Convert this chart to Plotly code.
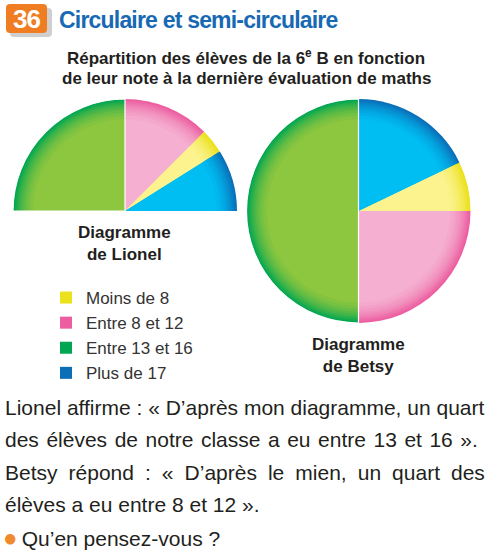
import plotly.graph_objects as go

# ---------------- données ----------------
categories = ["Moins de 8", "Entre 8 et 12", "Entre 13 et 16", "Plus de 17"]
effectifs = [2, 7, 14, 5]
couleurs_bord = ["#ebe11c", "#ec5ea0", "#00a651", "#0b6fb8"]
couleurs_centre = ["#fcf38e", "#f5afd0", "#8dc63f", "#00bdf2"]

numero = "36"
titre = "Circulaire et semi-circulaire"
sous_titre = ["Répartition des élèves de la 6<sup>e</sup> B en fonction",
              "de leur note à la dernière évaluation de maths"]
nom_lionel = "Diagramme<br>de Lionel"
nom_betsy = "Diagramme<br>de Betsy"
paragraphe = [
    ("Lionel affirme : « D’après mon diagramme, un quart", 0),
    ("des élèves de notre classe a eu entre 13 et 16 ».", 1.7),
    ("Betsy répond : « D’après le mien, un quart des", 5.2),
    ("élèves a eu entre 8 et 12 ».", 0),
]
question = "Qu’en pensez-vous ?"

# ---------------- mise en page ----------------
W, H = 485, 550
R = 112
LIONEL_C = (125, 211)
BETSY_C = (358.5, 211)

FONT = "Liberation Sans, Arial, sans-serif"


def px(x):
    return x / W


def py(y):
    return 1 - y / H


def mix(c1, c2, t):
    a = [int(c1[i:i + 2], 16) for i in (1, 3, 5)]
    b = [int(c2[i:i + 2], 16) for i in (1, 3, 5)]
    return "#" + "".join(f"{round(a[k] + (b[k] - a[k]) * t):02x}" for k in range(3))


def domain(c, s):
    cx, cy = c
    r = R * s
    return dict(x=[px(cx - r), px(cx + r)], y=[py(cy + r), py(cy - r)])


echelles = [1.0, 0.985, 0.97, 0.955, 0.94, 0.92, 0.90, 0.875, 0.85, 0.82]
teintes = [0.0, 0.12, 0.24, 0.36, 0.48, 0.60, 0.72, 0.83, 0.92, 1.0]

total = sum(effectifs)
fig = go.Figure()

# Diagramme de Betsy (cercle) : commence par "Moins de 8" après "Plus de 17"
rot_betsy = effectifs[3] / total * 360
for k, (s, t) in enumerate(zip(echelles, teintes)):
    fig.add_trace(go.Pie(
        labels=categories, values=effectifs, sort=False, direction="clockwise",
        rotation=rot_betsy, domain=domain(BETSY_C, s), textinfo="none",
        marker=dict(colors=[mix(couleurs_bord[i], couleurs_centre[i], t) for i in range(4)],
                    line=dict(width=0)),
        showlegend=(k == 0), hoverinfo="label+value",
    ))
fig.add_trace(go.Pie(
    labels=categories, values=effectifs, sort=False, direction="clockwise",
    rotation=rot_betsy, domain=domain(BETSY_C, 1.0), textinfo="none",
    marker=dict(colors=["rgba(0,0,0,0)"] * 4,
                line=dict(color=["rgba(0,0,0,0)", "rgba(0,0,0,0)", "white", "rgba(0,0,0,0)"], width=1.2)),
    showlegend=False, hoverinfo="skip",
))

# Diagramme de Lionel (semi-circulaire) : moitié inférieure masquée
ordre_lionel = [2, 1, 0, 3]
lab_l = [categories[i] for i in ordre_lionel] + ["masqué"]
val_l = [effectifs[i] for i in ordre_lionel] + [total]
for k, (s, t) in enumerate(zip(echelles, teintes)):
    fig.add_trace(go.Pie(
        labels=lab_l, values=val_l, sort=False, direction="clockwise",
        rotation=-90, domain=domain(LIONEL_C, s), textinfo="none",
        marker=dict(colors=[mix(couleurs_bord[i], couleurs_centre[i], t) for i in ordre_lionel]
                    + ["rgba(0,0,0,0)"], line=dict(width=0)),
        showlegend=False, hoverinfo="label+value",
    ))
fig.add_trace(go.Pie(
    labels=lab_l, values=val_l, sort=False, direction="clockwise",
    rotation=-90, domain=domain(LIONEL_C, 1.0), textinfo="none",
    marker=dict(colors=["rgba(0,0,0,0)"] * 5,
                line=dict(color=["white"] + ["rgba(0,0,0,0)"] * 4, width=1.2)),
    showlegend=False, hoverinfo="skip",
))


def rrect(x0, y0, x1, y1, r):
    rx, ry = r / W, r / H
    X0, X1 = px(x0), px(x1)
    Y0, Y1 = py(y0), py(y1)
    return (f"M{X0 + rx},{Y0} L{X1 - rx},{Y0} Q{X1},{Y0} {X1},{Y0 - ry} "
            f"L{X1},{Y1 + ry} Q{X1},{Y1} {X1 - rx},{Y1} L{X0 + rx},{Y1} "
            f"Q{X0},{Y1} {X0},{Y1 + ry} L{X0},{Y0 - ry} Q{X0},{Y0} {X0 + rx},{Y0} Z")


shapes = [
    dict(type="path", xref="paper", yref="paper", path=rrect(10, 8, 52, 37, 4),
         fillcolor="#cfcfcf", line=dict(width=0), layer="below"),
    dict(type="path", xref="paper", yref="paper", path=rrect(6, 4, 47, 33, 4),
         fillcolor="#f07d21", line=dict(width=0), layer="below"),
]

ann = []
ann.append(dict(text=f'<b><span style="letter-spacing:-1px">{numero}</span></b>',
                x=px(26.5), y=py(19), xref="paper", yref="paper",
                xanchor="center", yanchor="middle", showarrow=False,
                font=dict(family=FONT, size=26, color="white")))
ann.append(dict(text=f'<b><span style="letter-spacing:-0.8px">{titre}</span></b>',
                x=px(57), y=py(20.5), xref="paper", yref="paper",
                xanchor="left", yanchor="middle", showarrow=False,
                font=dict(family=FONT, size=23, color="#1769b3")))
for i, (ligne, yy) in enumerate(zip(sous_titre, [57, 78])):
    ann.append(dict(text=f"<b>{ligne}</b>", x=px(246), y=py(yy), xref="paper", yref="paper",
                    xanchor="center", yanchor="middle", showarrow=False,
                    font=dict(family=FONT, size=17, color="#231f20")))
ann.append(dict(text=f"<b>{nom_lionel}</b>", x=px(125), y=py(244), xref="paper", yref="paper",
                xanchor="center", yanchor="middle", showarrow=False,
                font=dict(family=FONT, size=17, color="#231f20")))
ann.append(dict(text=f"<b>{nom_betsy}</b>", x=px(358), y=py(355), xref="paper", yref="paper",
                xanchor="center", yanchor="middle", showarrow=False,
                font=dict(family=FONT, size=17, color="#231f20")))
for i, (ligne, ws) in enumerate(paragraphe):
    txt = f'<span style="word-spacing:{ws}px">{ligne}</span>' if ws else ligne
    ann.append(dict(text=txt, x=px(3), y=py(407 + 32.5 * i), xref="paper", yref="paper",
                    xanchor="left", yanchor="middle", showarrow=False,
                    font=dict(family=FONT, size=21, color="#231f20")))
ann.append(dict(text=f'<span style="color:#f08a2c;font-size:24px">●</span>\u2009{question}', x=px(1), y=py(537),
                xref="paper", yref="paper", xanchor="left", yanchor="middle", showarrow=False,
                font=dict(family=FONT, size=21, color="#231f20")))

fig.update_layout(
    width=W, height=H, margin=dict(l=0, r=0, t=0, b=0),
    paper_bgcolor="white", plot_bgcolor="white",
    shapes=shapes, annotations=ann,
    legend=dict(x=px(46), y=py(280), xanchor="left", yanchor="top",
                font=dict(family=FONT, size=17, color="#333333"),
                bgcolor="rgba(0,0,0,0)", traceorder="normal"),
)

fig.write_html("out.html")
